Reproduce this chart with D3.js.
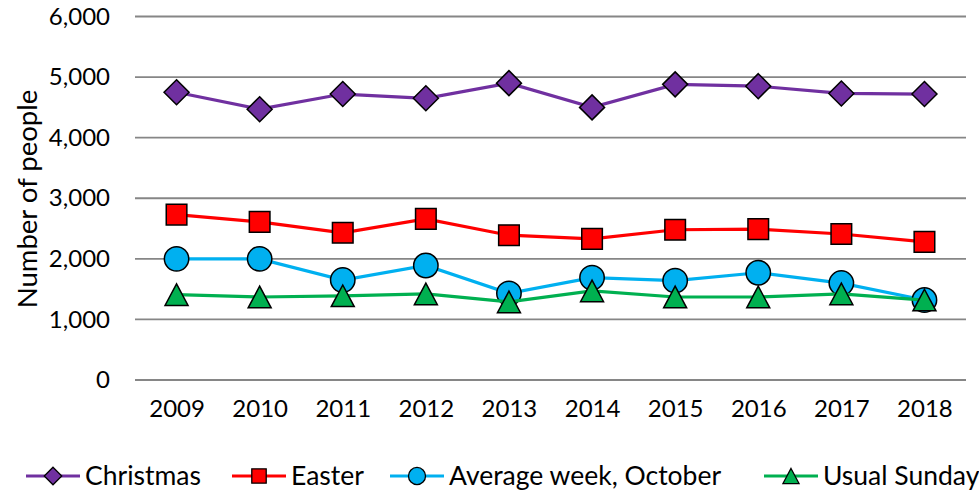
<!DOCTYPE html>
<html>
<head>
<meta charset="utf-8">
<script src="https://cdn.jsdelivr.net/npm/d3@7"></script>
<style>
  body { margin: 0; background: #fff; }
  text { font-family: "Lato", "Open Sans", sans-serif; fill: #000; }
</style>
</head>
<body>
<div id="chart"></div>
<script>
var years = ["2009", "2010", "2011", "2012", "2013", "2014", "2015", "2016", "2017", "2018"];
var christmas = [4750, 4470, 4720, 4650, 4900, 4500, 4880, 4850, 4730, 4720];
var easter = [2730, 2610, 2430, 2660, 2390, 2330, 2480, 2490, 2410, 2280];
var averageWeek = [2000, 2000, 1650, 1890, 1430, 1690, 1640, 1770, 1600, 1320];
var usualSunday = [1410, 1370, 1390, 1420, 1290, 1470, 1370, 1370, 1420, 1320];
var yTicks = [0, 1000, 2000, 3000, 4000, 5000, 6000];

var series = [
  { name: "Christmas", values: christmas, color: "#7030A0", marker: "diamond" },
  { name: "Easter", values: easter, color: "#FF0000", marker: "square" },
  { name: "Average week, October", values: averageWeek, color: "#00B0F0", marker: "circle" },
  { name: "Usual Sunday", values: usualSunday, color: "#00B050", marker: "triangle" }
];

var W = 979, H = 496;
var plotLeft = 135, plotRight = 966, plotTop = 16.5, plotBottom = 380;

var svg = d3.select("#chart").append("svg")
  .attr("width", W)
  .attr("height", H);

var x = d3.scalePoint().domain(years).range([plotLeft, plotRight]).padding(0.5);
var y = d3.scaleLinear().domain([0, 6000]).range([plotBottom, plotTop]);

// marker paths, scaled by k
function markerPath(type, k) {
  if (type == "diamond") {
    var r = 12.5 * k;
    return "M0," + (-r) + "L" + r + ",0L0," + r + "L" + (-r) + ",0Z";
  } else if (type == "square") {
    var s = 10.3 * k;
    return "M" + (-s) + "," + (-s) + "H" + s + "V" + s + "H" + (-s) + "Z";
  } else if (type == "circle") {
    var c = 12.2 * k;
    return "M" + c + ",0A" + c + "," + c + " 0 1,1 " + (-c) + ",0A" + c + "," + c + " 0 1,1 " + c + ",0Z";
  } else {
    var hw = 11.5 * k, hh = 10.8 * k;
    return "M0," + (-hh) + "L" + hw + "," + hh + "L" + (-hw) + "," + hh + "Z";
  }
}

// gridlines
svg.append("g")
  .selectAll("line")
  .data(yTicks)
  .enter().append("line")
    .attr("x1", plotLeft)
    .attr("x2", plotRight)
    .attr("y1", d => y(d))
    .attr("y2", d => y(d))
    .attr("stroke", "#868686")
    .attr("stroke-width", 1.8);

// y axis labels
var yAxis = d3.axisLeft(y)
  .tickValues(yTicks)
  .tickSize(0)
  .tickPadding(0)
  .tickFormat(d3.format(","));

svg.append("g")
  .attr("transform", "translate(110,0)")
  .call(yAxis)
  .call(g => g.select(".domain").remove())
  .selectAll("text")
    .style("font-family", "Lato, sans-serif")
    .style("font-size", "24px")
    .attr("fill", "#000");

// x axis labels
var xAxis = d3.axisBottom(x).tickSize(0).tickPadding(0);

svg.append("g")
  .attr("transform", "translate(0,400)")
  .call(xAxis)
  .call(g => g.select(".domain").remove())
  .selectAll("text")
    .style("font-family", "Lato, sans-serif")
    .style("font-size", "24px")
    .attr("fill", "#000");

// axis title
svg.append("text")
  .attr("transform", "translate(37,199) rotate(-90)")
  .attr("text-anchor", "middle")
  .style("font-size", "27.5px")
  .text("Number of people");

var line = d3.line()
  .x((d, i) => x(years[i]))
  .y(d => y(d));

series.forEach(function(s) {
  var g = svg.append("g");
  g.append("path")
    .datum(s.values)
    .attr("d", line)
    .attr("fill", "none")
    .attr("stroke", s.color)
    .attr("stroke-width", 3.2);

  g.selectAll("path.marker")
    .data(s.values)
    .enter().append("path")
      .attr("class", "marker")
      .attr("transform", (d, i) => "translate(" + x(years[i]) + "," + y(d) + ")")
      .attr("d", markerPath(s.marker, 1))
      .attr("fill", s.color)
      .attr("stroke", "#000")
      .attr("stroke-width", 1.5);
});

// legend
var legendX = [26, 232, 390, 764];
var legendY = 476;
var legend = svg.append("g");
series.forEach(function(s, i) {
  var g = legend.append("g").attr("transform", "translate(" + legendX[i] + "," + legendY + ")");
  g.append("line")
    .attr("x1", 0).attr("x2", 54)
    .attr("y1", 0).attr("y2", 0)
    .attr("stroke", s.color)
    .attr("stroke-width", 3.2);
  g.append("path")
    .attr("transform", "translate(27,0)")
    .attr("d", markerPath(s.marker, 0.7))
    .attr("fill", s.color)
    .attr("stroke", "#000")
    .attr("stroke-width", 1.3);
  g.append("text")
    .attr("x", 59)
    .attr("y", 0)
    .attr("dy", "0.35em")
    .style("font-size", "26.5px")
    .text(s.name);
});
</script>
</body>
</html>
